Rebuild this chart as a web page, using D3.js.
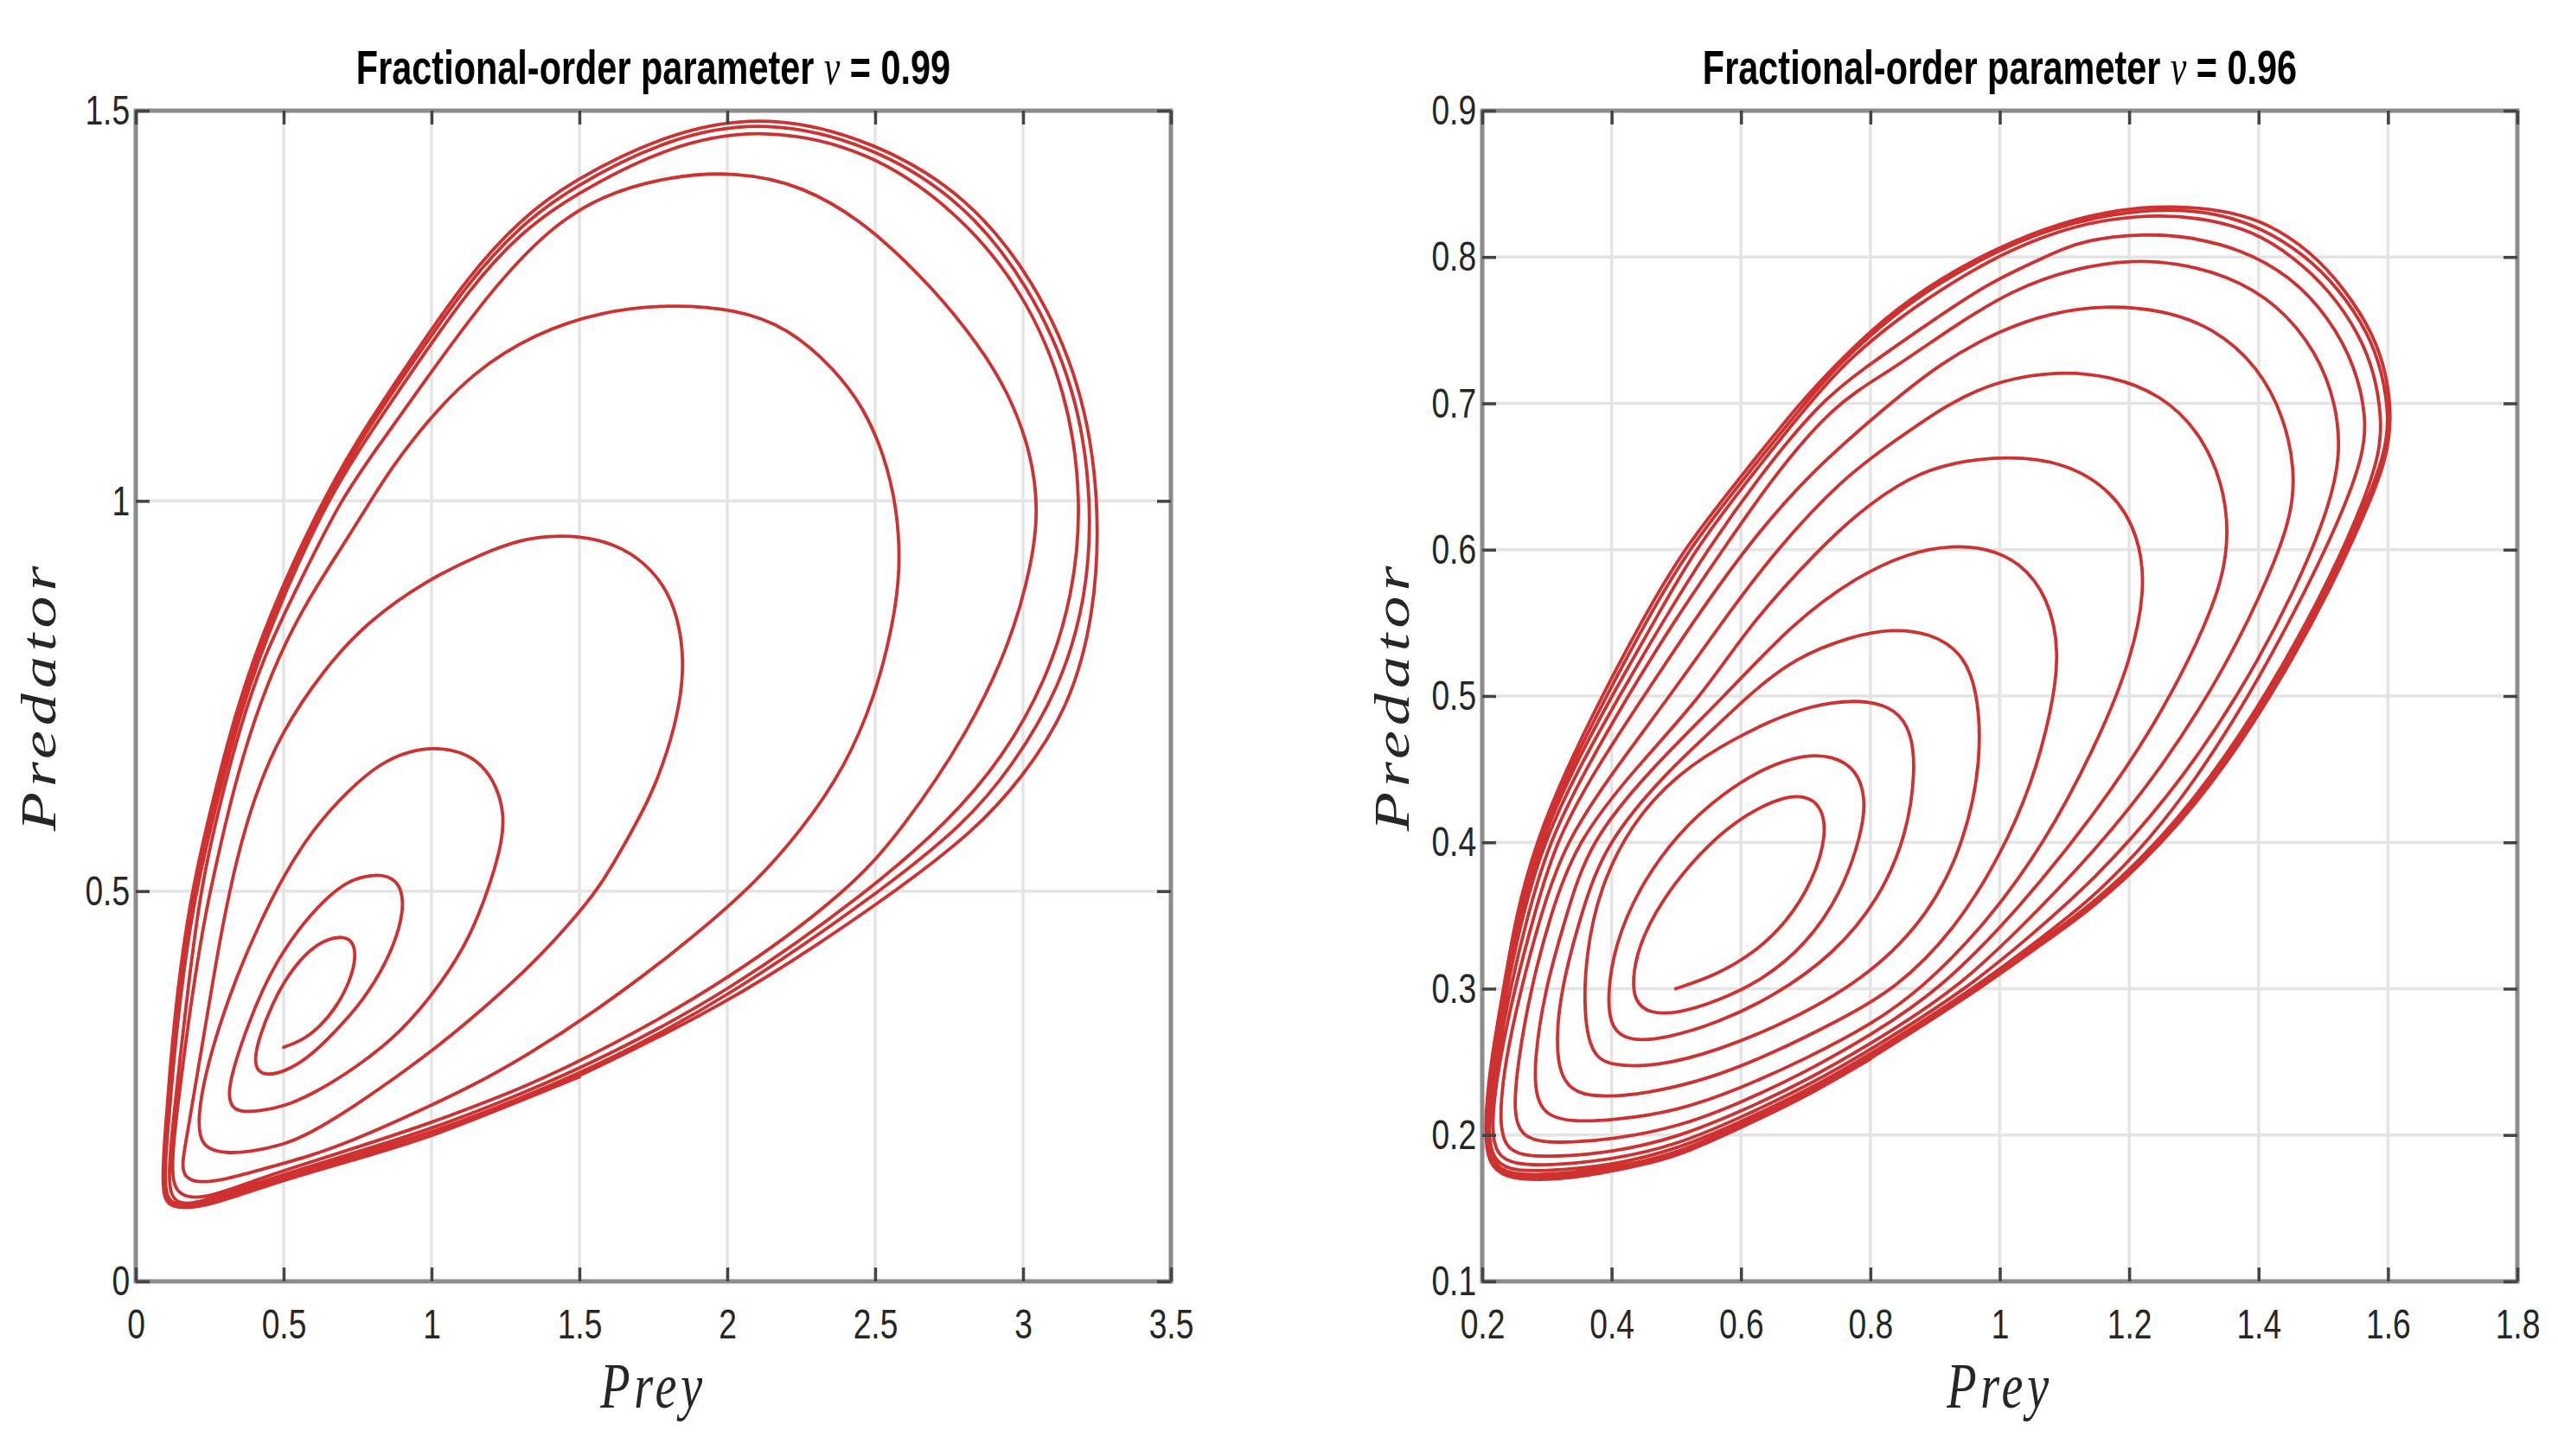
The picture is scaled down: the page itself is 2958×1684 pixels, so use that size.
<!DOCTYPE html>
<html>
<head>
<meta charset="utf-8">
<script src="https://cdn.jsdelivr.net/npm/d3@7"></script>
<style>
  body { margin: 0; background: #fff; }
</style>
</head>
<body>
<div id="chart"></div>
<script>
// tick values and labels
const preyTicks099 = [0, 0.5, 1, 1.5, 2, 2.5, 3, 3.5];
const preyLabels099 = ["0", "0.5", "1", "1.5", "2", "2.5", "3", "3.5"];
const predTicks099 = [0, 0.5, 1, 1.5];
const predLabels099 = ["0", "0.5", "1", "1.5"];

const preyTicks096 = [0.2, 0.4, 0.6, 0.8, 1, 1.2, 1.4, 1.6, 1.8];
const preyLabels096 = ["0.2", "0.4", "0.6", "0.8", "1", "1.2", "1.4", "1.6", "1.8"];
const predTicks096 = [0.1, 0.2, 0.3, 0.4, 0.5, 0.6, 0.7, 0.8, 0.9];
const predLabels096 = ["0.1", "0.2", "0.3", "0.4", "0.5", "0.6", "0.7", "0.8", "0.9"];

const orders = ["0.99", "0.96"];

// phase trajectory for nu = 0.99, [prey, predator]
const orbit099 = [
  // loop 1
  [0.50,0.300],[0.56,0.308],[0.62,0.325],[0.68,0.352],[0.725,0.385],[0.745,0.415],[0.735,0.436],[0.70,0.442],
  [0.65,0.439],[0.59,0.426],[0.52,0.396],[0.46,0.355],[0.415,0.31],[0.402,0.285],[0.41,0.27],[0.44,0.264],
  // loop 2
  [0.50,0.268],[0.58,0.285],[0.67,0.318],[0.77,0.36],[0.85,0.41],[0.895,0.455],[0.906,0.488],[0.89,0.51],
  [0.85,0.52],[0.80,0.521],[0.72,0.514],[0.64,0.49],[0.55,0.452],[0.46,0.40],[0.39,0.34],[0.335,0.28],
  [0.313,0.245],[0.32,0.225],[0.35,0.217],[0.42,0.218],
  // loop 3
  [0.50,0.224],[0.60,0.240],[0.75,0.275],[0.90,0.32],[1.03,0.38],[1.13,0.44],[1.20,0.51],[1.24,0.565],
  [1.245,0.60],[1.22,0.635],[1.17,0.663],[1.10,0.679],[1.01,0.684],[0.93,0.680],[0.83,0.665],[0.72,0.63],
  [0.60,0.58],[0.50,0.52],[0.42,0.46],[0.34,0.39],[0.28,0.325],[0.235,0.265],[0.212,0.215],[0.215,0.185],
  [0.24,0.17],[0.30,0.164],[0.39,0.166],
  // loop 4
  [0.50,0.175],[0.587,0.189],[0.73,0.222],[0.882,0.262],[1.0,0.295],[1.128,0.334],[1.325,0.40],[1.46,0.455],
  [1.57,0.505],[1.66,0.565],[1.74,0.62],[1.80,0.68],[1.84,0.74],[1.853,0.79],[1.84,0.84],[1.80,0.885],
  [1.72,0.922],[1.62,0.945],[1.50,0.955],[1.396,0.955],[1.30,0.950],[1.18,0.934],[0.98,0.898],[0.78,0.844],
  [0.64,0.786],[0.49,0.703],[0.40,0.62],[0.34,0.54],[0.29,0.45],[0.25,0.36],[0.21,0.27],[0.175,0.19],
  [0.155,0.15],[0.165,0.133],[0.21,0.126],[0.30,0.13],
  // loop 5
  [0.42,0.143],[0.587,0.160],[0.73,0.18],[0.882,0.205],[1.128,0.248],[1.325,0.29],[1.55,0.345],[1.80,0.415],
  [2.07,0.50],[2.252,0.578],[2.40,0.66],[2.50,0.75],[2.56,0.84],[2.586,0.912],[2.575,0.99],[2.53,1.06],
  [2.46,1.12],[2.365,1.168],[2.207,1.222],[2.027,1.246],[1.802,1.252],[1.577,1.243],[1.351,1.215],[1.14,1.165],
  [0.98,1.10],[0.86,1.04],[0.79,0.997],[0.685,0.934],[0.587,0.876],[0.488,0.806],[0.40,0.72],[0.33,0.63],
  [0.275,0.54],[0.235,0.47],[0.20,0.39],[0.17,0.31],[0.14,0.22],[0.123,0.16],[0.125,0.125],[0.15,0.11],
  [0.22,0.105],[0.35,0.122],
  // loop 6
  [0.5,0.142],[0.75,0.172],[1.0,0.203],[1.325,0.25],[1.6,0.30],[2.0,0.385],[2.41,0.5],[2.59,0.578],
  [2.815,0.703],[2.96,0.82],[3.03,0.92],[3.052,0.985],[3.03,1.06],[2.95,1.14],[2.85,1.2],[2.703,1.27],
  [2.477,1.354],[2.252,1.405],[2.027,1.422],[1.80,1.416],[1.577,1.392],[1.40,1.35],[1.20,1.27],[0.97,1.15],
  [0.82,1.07],[0.69,1.0],[0.56,0.9],[0.43,0.8],[0.345,0.7],[0.29,0.62],[0.235,0.53],[0.205,0.46],
  [0.175,0.37],[0.148,0.28],[0.125,0.2],[0.112,0.145],[0.115,0.113],[0.14,0.1],[0.2,0.099],[0.35,0.118],
  // loop 7
  [0.5,0.137],[0.75,0.166],[1.0,0.195],[1.325,0.243],[1.6,0.29],[2.0,0.37],[2.48,0.5],[2.75,0.59],
  [2.93,0.67],[3.08,0.77],[3.17,0.88],[3.20,1.0],[3.15,1.14],[3.0,1.27],[2.78,1.37],[2.48,1.45],
  [2.12,1.479],[1.80,1.456],[1.47,1.39],[1.3,1.343],[1.135,1.276],[0.91,1.153],[0.755,1.066],[0.633,0.99],
  [0.466,0.85],[0.352,0.73],[0.25,0.578],[0.193,0.48],[0.152,0.37],[0.125,0.27],[0.105,0.18],[0.098,0.134],
  [0.104,0.108],[0.13,0.098],[0.2,0.097],[0.35,0.115],
  // loop 8
  [0.5,0.134],[0.75,0.162],[1.0,0.19],[1.325,0.238],[1.6,0.283],[2.0,0.363],[2.52,0.5],[2.80,0.585],
  [2.965,0.66],[3.125,0.76],[3.215,0.875],[3.235,1.0],[3.18,1.145],[3.02,1.277],[2.8,1.383],[2.49,1.456],
  [2.13,1.489],[1.80,1.466],[1.465,1.40],[1.3,1.352],[1.13,1.284],[0.905,1.16],[0.75,1.072],[0.625,0.99],
  [0.458,0.852],[0.345,0.73],[0.243,0.578],[0.187,0.48],[0.146,0.37],[0.12,0.27],[0.101,0.18],[0.094,0.132],
  [0.1,0.106],[0.125,0.096],[0.2,0.095],[0.35,0.112],
  // loop 9 (limit cycle)
  [0.5,0.131],[0.75,0.158],[1.0,0.185],[1.325,0.235],[1.5,0.262],[2.0,0.357],[2.3,0.43],[2.57,0.5],
  [2.838,0.578],[2.995,0.644],[3.153,0.733],[3.243,0.853],[3.261,1.002],[3.198,1.151],[3.04,1.282],[2.815,1.39],
  [2.5,1.461],[2.14,1.496],[1.802,1.473],[1.464,1.408],[1.3,1.36],[1.126,1.29],[0.901,1.165],[0.743,1.075],
  [0.617,0.99],[0.45,0.853],[0.338,0.733],[0.235,0.578],[0.18,0.48],[0.14,0.37],[0.115,0.27],[0.097,0.18],
  [0.09,0.13],[0.097,0.105],[0.12,0.095],[0.2,0.093],[0.35,0.11],[0.5,0.13],[0.75,0.157],[1.0,0.185],
  [1.325,0.235],[1.5,0.262]
];

// phase trajectory for nu = 0.96, [prey, predator]
const orbit096 = [
  // loop 1
  [0.499,0.300],[0.561,0.309],[0.622,0.325],[0.670,0.345],[0.712,0.374],[0.733,0.406],[0.724,0.425],[0.700,0.432],
  [0.664,0.431],[0.610,0.420],[0.549,0.399],[0.489,0.368],[0.447,0.336],[0.432,0.310],[0.435,0.291],[0.459,0.283],
  // loop 2
  [0.501,0.283],[0.561,0.291],[0.634,0.306],[0.700,0.330],[0.754,0.364],[0.787,0.406],[0.793,0.431],[0.778,0.450],
  [0.742,0.459],[0.700,0.460],[0.640,0.452],[0.573,0.434],[0.501,0.406],[0.441,0.368],[0.405,0.330],[0.393,0.295],
  [0.399,0.272],[0.429,0.264],
  // loop 3
  [0.483,0.266],[0.561,0.276],[0.652,0.295],[0.742,0.323],[0.814,0.361],[0.857,0.406],[0.870,0.450],[0.863,0.476],
  [0.839,0.491],[0.796,0.497],[0.742,0.496],[0.682,0.490],[0.592,0.472],[0.501,0.447],[0.429,0.412],[0.381,0.368],
  [0.360,0.323],[0.357,0.282],[0.369,0.255],[0.399,0.247],
  // loop 4
  [0.471,0.247],[0.561,0.257],[0.682,0.279],[0.802,0.310],[0.893,0.352],[0.945,0.40],[0.972,0.455],[0.966,0.505],
  [0.941,0.530],[0.893,0.543],[0.833,0.546],[0.772,0.541],[0.682,0.526],[0.61,0.50],[0.54,0.47],[0.49,0.45],
  [0.39,0.40],[0.352,0.35],[0.322,0.30],[0.314,0.265],[0.32,0.24],[0.345,0.228],[0.39,0.226],
  // loop 5
  [0.45,0.228],[0.55,0.238],[0.65,0.256],[0.75,0.278],[0.84,0.30],[0.93,0.34],[1.00,0.39],[1.05,0.44],
  [1.08,0.49],[1.093,0.53],[1.075,0.568],[1.03,0.592],[0.98,0.601],[0.927,0.603],[0.86,0.598],[0.78,0.582],
  [0.68,0.55],[0.575,0.50],[0.46,0.45],[0.365,0.40],[0.33,0.35],[0.297,0.30],[0.28,0.25],[0.283,0.225],
  [0.30,0.213],[0.34,0.209],[0.40,0.21],
  // loop 6
  [0.50,0.216],[0.60,0.232],[0.70,0.252],[0.80,0.275],[0.88,0.30],[0.98,0.345],[1.07,0.40],[1.145,0.463],
  [1.20,0.52],[1.226,0.572],[1.215,0.61],[1.175,0.64],[1.10,0.66],[1.011,0.664],[0.93,0.66],[0.86,0.65],
  [0.78,0.625],[0.72,0.60],[0.615,0.55],[0.54,0.50],[0.435,0.45],[0.345,0.40],[0.305,0.35],[0.275,0.30],
  [0.255,0.25],[0.248,0.215],[0.26,0.2],[0.29,0.195],[0.34,0.195],[0.40,0.197],
  // loop 7
  [0.50,0.205],[0.60,0.222],[0.70,0.243],[0.80,0.268],[0.91,0.30],[1.03,0.355],[1.145,0.418],[1.24,0.48],
  [1.31,0.54],[1.345,0.58],[1.354,0.612],[1.345,0.645],[1.31,0.68],[1.25,0.706],[1.17,0.719],[1.089,0.722],
  [1.00,0.716],[0.92,0.70],[0.84,0.675],[0.76,0.65],[0.654,0.60],[0.57,0.55],[0.49,0.50],[0.405,0.45],
  [0.328,0.40],[0.29,0.35],[0.26,0.30],[0.235,0.25],[0.226,0.21],[0.235,0.192],[0.26,0.186],[0.31,0.185],
  [0.40,0.188],
  // loop 8
  [0.50,0.198],[0.60,0.216],[0.70,0.237],[0.80,0.262],[0.935,0.30],[1.04,0.345],[1.145,0.393],[1.25,0.45],
  [1.35,0.52],[1.42,0.585],[1.452,0.625],[1.456,0.655],[1.44,0.69],[1.40,0.725],[1.33,0.752],[1.25,0.764],
  [1.161,0.767],[1.08,0.762],[1.00,0.75],[0.91,0.728],[0.83,0.70],[0.70,0.65],[0.605,0.60],[0.525,0.55],
  [0.45,0.50],[0.375,0.45],[0.313,0.40],[0.28,0.35],[0.25,0.30],[0.226,0.25],[0.213,0.205],[0.222,0.186],
  [0.25,0.18],[0.30,0.179],[0.40,0.183],
  // loop 9
  [0.50,0.193],[0.60,0.212],[0.70,0.233],[0.80,0.258],[0.95,0.30],[1.05,0.337],[1.145,0.374],[1.26,0.43],
  [1.37,0.50],[1.46,0.575],[1.51,0.63],[1.527,0.665],[1.52,0.70],[1.49,0.735],[1.43,0.768],[1.35,0.788],
  [1.27,0.796],[1.207,0.798],[1.12,0.793],[1.02,0.778],[0.92,0.75],[0.83,0.722],[0.745,0.70],[0.65,0.65],
  [0.572,0.60],[0.495,0.55],[0.425,0.50],[0.36,0.45],[0.303,0.40],[0.27,0.35],[0.243,0.30],[0.222,0.25],
  [0.208,0.205],[0.215,0.184],[0.24,0.176],[0.29,0.175],[0.40,0.179],
  // loop 10
  [0.50,0.19],[0.60,0.209],[0.70,0.23],[0.80,0.255],[0.96,0.30],[1.05,0.33],[1.145,0.362],[1.25,0.41],
  [1.36,0.48],[1.46,0.56],[1.53,0.625],[1.562,0.665],[1.567,0.69],[1.55,0.725],[1.51,0.758],[1.45,0.787],
  [1.37,0.806],[1.29,0.814],[1.226,0.816],[1.13,0.812],[1.07,0.80],[0.98,0.782],[0.875,0.75],[0.79,0.724],
  [0.72,0.70],[0.628,0.65],[0.548,0.60],[0.478,0.55],[0.412,0.50],[0.348,0.45],[0.295,0.40],[0.262,0.35],
  [0.238,0.30],[0.218,0.25],[0.206,0.205],[0.212,0.183],[0.235,0.174],[0.28,0.172],[0.40,0.177],
  // loop 11
  [0.50,0.187],[0.60,0.207],[0.70,0.228],[0.80,0.254],[0.965,0.30],[1.05,0.328],[1.145,0.358],[1.25,0.402],
  [1.35,0.458],[1.44,0.522],[1.51,0.58],[1.565,0.635],[1.588,0.668],[1.59,0.69],[1.58,0.72],[1.555,0.748],
  [1.51,0.777],[1.455,0.80],[1.39,0.818],[1.32,0.826],[1.252,0.829],[1.16,0.826],[1.07,0.815],[0.98,0.797],
  [0.90,0.775],[0.85,0.76],[0.77,0.732],[0.705,0.70],[0.615,0.65],[0.528,0.60],[0.465,0.55],[0.40,0.50],
  [0.34,0.45],[0.29,0.40],[0.258,0.35],[0.236,0.30],[0.216,0.25],[0.205,0.205],[0.211,0.182],[0.235,0.173],
  [0.28,0.171],[0.40,0.176],
  // loop 12
  [0.50,0.186],[0.60,0.206],[0.70,0.227],[0.80,0.253],[0.968,0.30],[1.05,0.327],[1.145,0.356],[1.25,0.40],
  [1.35,0.455],[1.44,0.518],[1.51,0.576],[1.565,0.63],[1.595,0.665],[1.602,0.69],[1.592,0.72],[1.57,0.748],
  [1.525,0.778],[1.47,0.802],[1.405,0.82],[1.335,0.83],[1.262,0.833],[1.18,0.83],[1.08,0.82],[0.99,0.803],
  [0.905,0.782],[0.835,0.76],[0.76,0.731],[0.698,0.70],[0.607,0.65],[0.518,0.60],[0.452,0.55],[0.392,0.50],
  [0.335,0.45],[0.286,0.40],[0.255,0.35],[0.234,0.30],[0.214,0.25],[0.204,0.205],[0.21,0.181],[0.235,0.172],
  [0.28,0.17],[0.40,0.175],
  // loop 13 (limit cycle)
  [0.50,0.185],[0.60,0.205],[0.70,0.226],[0.80,0.252],[0.97,0.30],[1.05,0.326],[1.145,0.355],[1.25,0.398],
  [1.35,0.452],[1.44,0.515],[1.51,0.572],[1.565,0.625],[1.597,0.66],[1.606,0.69],[1.598,0.72],[1.577,0.748],
  [1.532,0.779],[1.48,0.804],[1.415,0.823],[1.35,0.832],[1.265,0.835],[1.187,0.833],[1.089,0.823],[0.995,0.806],
  [0.91,0.786],[0.82,0.758],[0.75,0.728],[0.69,0.70],[0.60,0.65],[0.51,0.60],[0.445,0.55],[0.385,0.50],
  [0.33,0.45],[0.283,0.40],[0.252,0.35],[0.233,0.30],[0.213,0.25],[0.203,0.205],[0.209,0.18],[0.235,0.171],
  [0.284,0.169],[0.351,0.171],[0.441,0.179],[0.50,0.185],[0.60,0.205],[0.70,0.226],[0.80,0.252]
];

const W = 2958, H = 1684;
const squeeze = 0.76;   // the original figure is narrowed horizontally, text included
const sans = "'Liberation Sans', Arial, Helvetica, sans-serif";
const serif = "'Liberation Serif', 'Times New Roman', serif";

const svg = d3.select("#chart")
    .append("svg")
    .attr("width", W)
    .attr("height", H)
    .style("background", "#fff");

const panels = [
    { left: 157, right: 1354, xDomain: [0, 3.5], yDomain: [0, 1.5],
      xTicks: preyTicks099, xLabels: preyLabels099, yTicks: predTicks099, yLabels: predLabels099,
      orbit: orbit099, order: orders[0], yLabelX: 64 },
    { left: 1714, right: 2911, xDomain: [0.2, 1.8], yDomain: [0.1, 0.9],
      xTicks: preyTicks096, xLabels: preyLabels096, yTicks: predTicks096, yLabels: predLabels096,
      orbit: orbit096, order: orders[1], yLabelX: 1629 }
];

const plotTop = 128, plotBottom = 1482;

panels.forEach(p => {
    const x = d3.scaleLinear().domain(p.xDomain).range([p.left, p.right]);
    const y = d3.scaleLinear().domain(p.yDomain).range([plotBottom, plotTop]);
    const g = svg.append("g");

    // grid
    g.append("g").selectAll("line")
        .data(p.xTicks)
        .enter().append("line")
        .attr("x1", d => x(d)).attr("x2", d => x(d))
        .attr("y1", plotTop).attr("y2", plotBottom)
        .attr("stroke", "#e4e4e4").attr("stroke-width", 3.5);
    g.append("g").selectAll("line")
        .data(p.yTicks)
        .enter().append("line")
        .attr("x1", p.left).attr("x2", p.right)
        .attr("y1", d => y(d)).attr("y2", d => y(d))
        .attr("stroke", "#e4e4e4").attr("stroke-width", 3.5);

    // trajectory, B-spline through the read points smooths out reading jitter
    const line = d3.line()
        .x(d => x(d[0]))
        .y(d => y(d[1]))
        .curve(d3.curveBasis);
    g.append("path")
        .datum(p.orbit)
        .attr("d", line)
        .attr("fill", "none")
        .attr("stroke", "#cf3030")
        .attr("stroke-width", 3.8)
        .attr("stroke-linejoin", "round")
        .attr("stroke-linecap", "round");

    // box
    g.append("rect")
        .attr("x", p.left).attr("y", plotTop)
        .attr("width", p.right - p.left).attr("height", plotBottom - plotTop)
        .attr("fill", "none").attr("stroke", "#8c8c8c").attr("stroke-width", 5);

    const styleAxis = sel => {
        sel.select(".domain").remove();
        sel.attr("font-family", null).attr("font-size", null);
        sel.selectAll(".tick line").attr("stroke", "#444").attr("stroke-width", 3.5);
        sel.selectAll(".tick text")
            .attr("fill", "#262626")
            .style("font-family", sans)
            .style("font-size", "49px")
            .attr("transform", `scale(${squeeze},1)`);
    };

    g.append("g")
        .attr("transform", `translate(0,${plotBottom})`)
        .call(d3.axisBottom(x).tickValues(p.xTicks).tickFormat((d, i) => p.xLabels[i])
            .tickSizeInner(-16).tickSizeOuter(0).tickPadding(31))
        .call(styleAxis);
    g.append("g")
        .attr("transform", `translate(${p.left},0)`)
        .call(d3.axisLeft(y).tickValues(p.yTicks).tickFormat((d, i) => p.yLabels[i])
            .tickSizeInner(-16).tickSizeOuter(0).tickPadding(9))
        .call(styleAxis);
    g.append("g")
        .attr("transform", `translate(0,${plotTop})`)
        .call(d3.axisTop(x).tickValues(p.xTicks).tickFormat("").tickSizeInner(-16).tickSizeOuter(0))
        .call(styleAxis);
    g.append("g")
        .attr("transform", `translate(${p.right},0)`)
        .call(d3.axisRight(y).tickValues(p.yTicks).tickFormat("").tickSizeInner(-16).tickSizeOuter(0))
        .call(styleAxis);

    const cx = (p.left + p.right) / 2;

    // title
    const title = g.append("text")
        .attr("transform", `translate(${cx},97) scale(0.74,1)`)
        .attr("text-anchor", "middle")
        .style("font-family", sans)
        .style("font-weight", "bold")
        .style("font-size", "56px")
        .attr("fill", "#000");
    title.append("tspan").text("Fractional-order parameter ");
    title.append("tspan")
        .style("font-family", serif)
        .style("font-style", "italic")
        .style("font-weight", "normal")
        .text("\u03BD");
    title.append("tspan").text(" = " + p.order);

    // axis labels
    g.append("text")
        .attr("transform", `translate(${cx},1628) scale(${squeeze},1)`)
        .attr("text-anchor", "middle")
        .style("font-family", serif)
        .style("font-style", "italic")
        .style("font-size", "74px")
        .style("letter-spacing", "6px")
        .attr("fill", "#262626")
        .text("Prey");
    g.append("text")
        .attr("transform", `translate(${p.yLabelX},${(plotTop + plotBottom) / 2}) scale(${squeeze},1) rotate(-90)`)
        .attr("text-anchor", "middle")
        .style("font-family", serif)
        .style("font-style", "italic")
        .style("font-size", "74px")
        .style("letter-spacing", "6px")
        .attr("fill", "#262626")
        .text("Predator");
});
</script>
</body>
</html>
